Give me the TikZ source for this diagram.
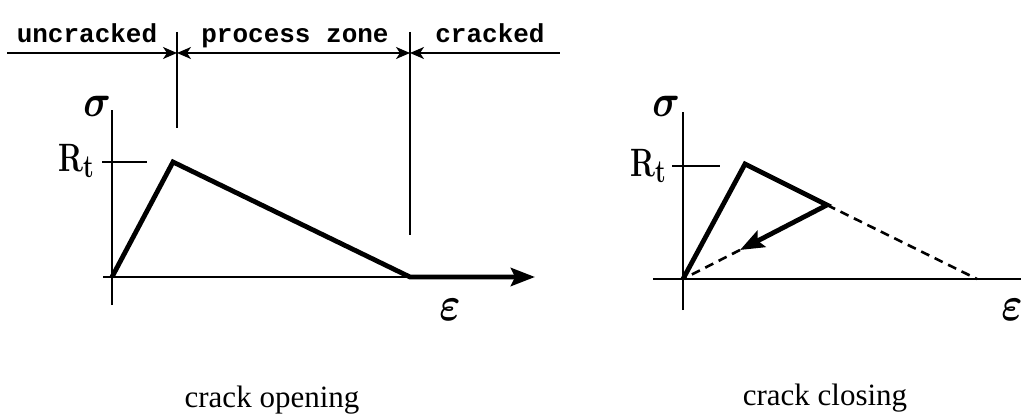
\RequirePackage{fix-cm}
\documentclass[tikz,border=0pt]{standalone}
\usepackage{fontspec}
\usepackage{graphicx}
\setmonofont{Liberation Mono}
\newfontfamily\capfont{Liberation Serif}
\usetikzlibrary{arrows.meta}
\tikzset{
  smalltip/.tip={Stealth[length=14pt,width=12pt,inset=4pt]},
  bigtip/.tip={Stealth[length=24pt,width=18pt,inset=4pt]}
}
\begin{document}
\begin{tikzpicture}[x=1pt,y=-1pt,
  axisline/.style={line width=1.8pt},
  curve/.style={line width=4.8pt, line join=miter},
  dimline/.style={line width=1.6pt},
  dashline/.style={line width=2.6pt, dash pattern=on 9pt off 6pt},
  toplbl/.style={font=\fontsize{26}{26}\selectfont\ttfamily\bfseries, anchor=base, inner sep=0},
  caplbl/.style={font=\fontsize{31}{31}\selectfont\capfont, anchor=base, inner sep=0},
  sym/.style={inner sep=0, anchor=base},
  rtlbl/.style={inner sep=0, anchor=base east, font=\fontsize{33}{33}\selectfont\bfseries}]
\useasboundingbox (0,0) rectangle (1021,417);

% ---- top dimension line ----
\coordinate (tl) at (7,53);
\coordinate (t1) at (177,53);
\coordinate (t2) at (410,53);
\coordinate (tr) at (560,53);
\draw[dimline, -smalltip] (tl) -- (t1);
\draw[dimline, smalltip-smalltip] (t1) -- (t2);
\draw[dimline, smalltip-] (t2) -- (tr);
\coordinate (v1a) at (177,32);
\coordinate (v1b) at (177,128);
\coordinate (v2a) at (410,32);
\coordinate (v2b) at (410,235);
\draw[dimline] (v1a) -- (v1b);
\draw[dimline] (v2a) -- (v2b);
\node[toplbl] (unc) at (87,43) {uncracked};
\node[toplbl] (pz) at (295,43) {process zone};
\node[toplbl] (crk) at (490,43) {cracked};

% ---- left graph: crack opening ----
\coordinate (O1) at (112,277);
\coordinate (P1) at (173,162);
\coordinate (E1) at (410,277);
\coordinate (A1) at (535,277);
\coordinate (ax1l) at (103,277);
\coordinate (ay1t) at (112,110);
\coordinate (ay1b) at (112,305);
\coordinate (rt1a) at (102,162);
\coordinate (rt1b) at (147,162);
\draw[axisline] (ay1b) -- (ay1t);
\draw[axisline] (ax1l) -- (E1);
\draw[axisline] (rt1a) -- (rt1b);
\draw[curve, -bigtip] (O1) -- (P1) -- (E1) -- (A1);
\node[sym] (sig1) at (97,117) {\scalebox{1}[1.2]{\fontsize{38}{38}\selectfont\boldmath$\sigma$}};
\node[sym] (eps1) at (450,320) {\scalebox{1}[1.2]{\fontsize{40}{40}\selectfont\boldmath$\varepsilon$}};
\node[rtlbl] (rt1) at (94,172) {\scalebox{0.9}[1.2]{R\raisebox{-5pt}{\fontsize{27}{27}\selectfont t}}};
\node[caplbl] (cap1) at (272,407) {crack opening};

% ---- right graph: crack closing ----
\coordinate (O2) at (683,279);
\coordinate (P2) at (745,164);
\coordinate (U2) at (827,205);
\coordinate (T2) at (740,250);
\coordinate (D2) at (977,279);
\coordinate (ax2l) at (653,279);
\coordinate (ax2r) at (1021,279);
\coordinate (ay2t) at (683,112);
\coordinate (ay2b) at (683,310);
\coordinate (rt2a) at (672,166);
\coordinate (rt2b) at (720,166);
\draw[axisline] (ay2b) -- (ay2t);
\draw[axisline] (ax2l) -- (ax2r);
\draw[axisline] (rt2a) -- (rt2b);
\draw[dashline] (T2) -- (O2);
\draw[dashline] (U2) -- (D2);
\draw[curve, -bigtip] (O2) -- (P2) -- (U2) -- (T2);
\node[sym] (sig2) at (666,117) {\scalebox{1}[1.2]{\fontsize{38}{38}\selectfont\boldmath$\sigma$}};
\node[sym] (eps2) at (1012,320) {\scalebox{1}[1.2]{\fontsize{40}{40}\selectfont\boldmath$\varepsilon$}};
\node[rtlbl] (rt2) at (666,177) {\scalebox{0.9}[1.2]{R\raisebox{-5pt}{\fontsize{27}{27}\selectfont t}}};
\node[caplbl] (cap2) at (825,405) {crack closing};
\end{tikzpicture}
\end{document}
